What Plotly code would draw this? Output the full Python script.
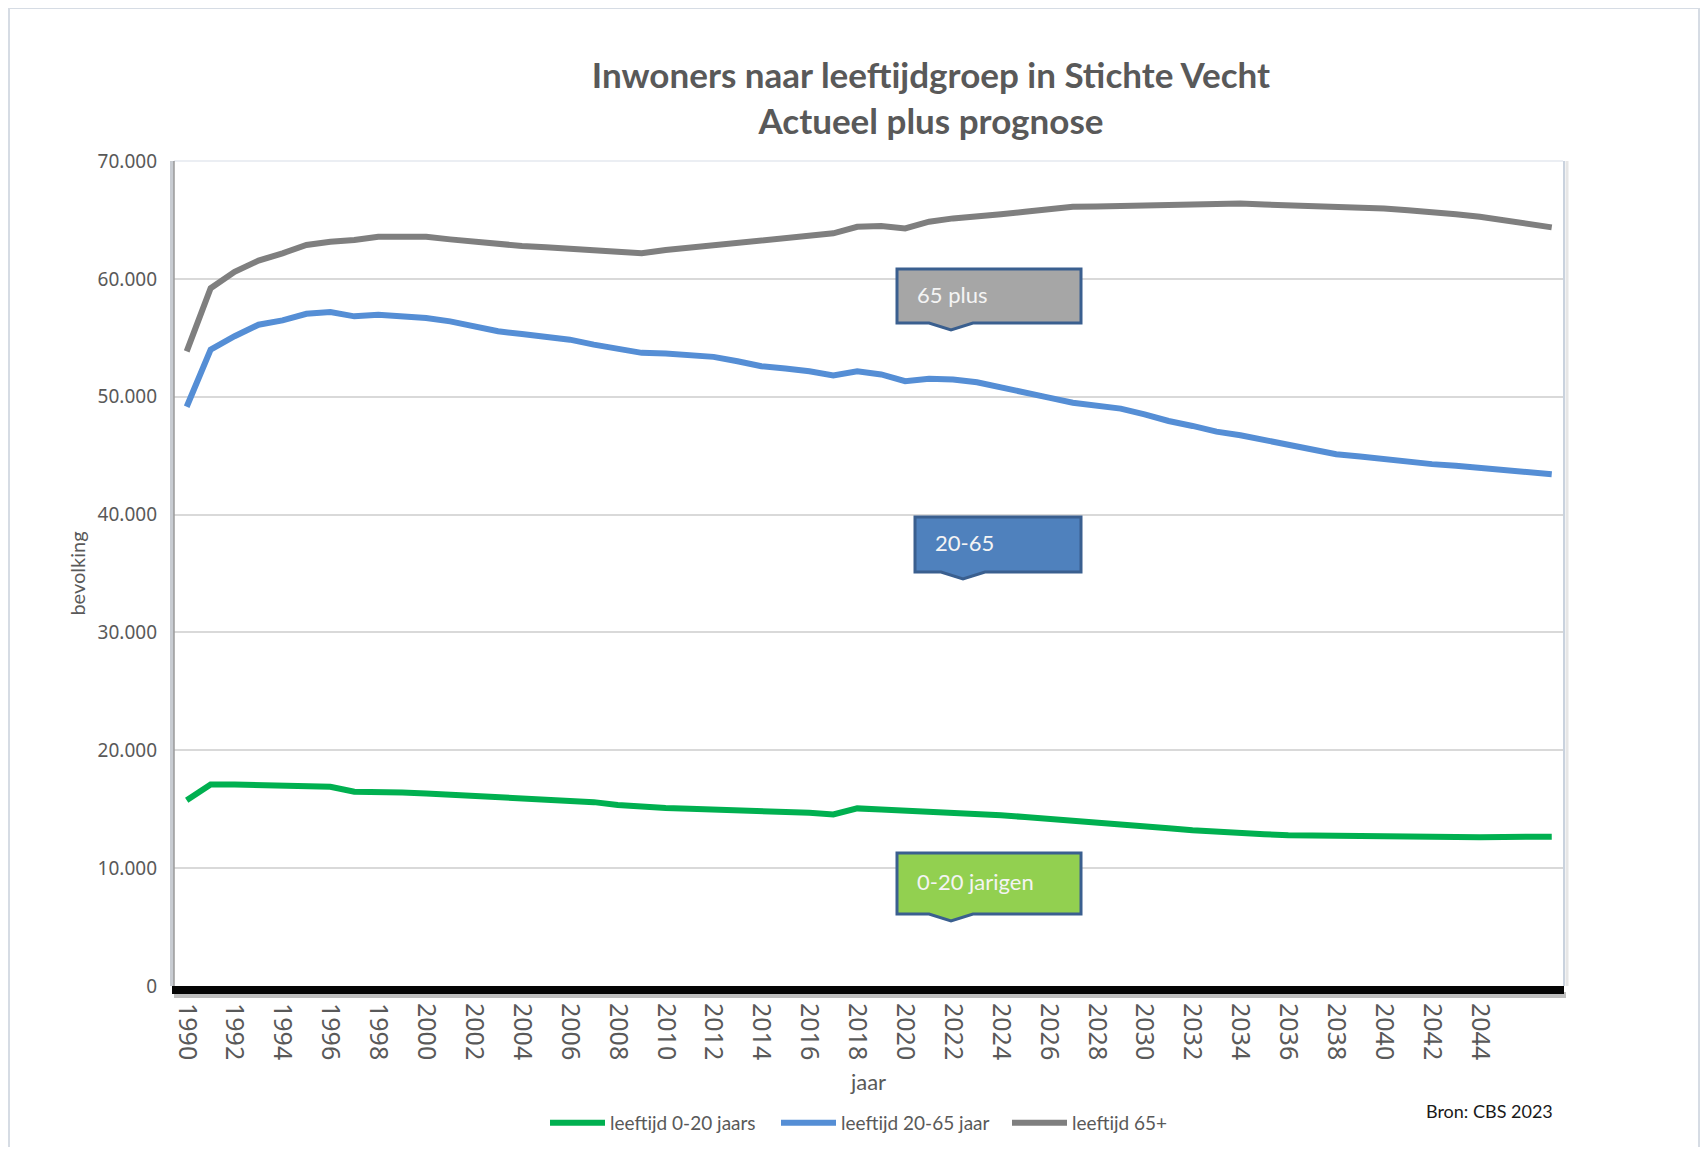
import plotly.graph_objects as go

years = list(range(1990, 2048))

age_0_20 = [15770, 17100, 17100, 17040, 17010, 16960, 16900, 16480, 16480, 16420,
            16340, 16230, 16110, 15970, 15890, 15800, 15750, 15600, 15350, 15180,
            15100, 15040, 14980, 14930, 14870, 14790, 14700, 14560, 15070, 14980,
            14900, 14820, 14620, 14590, 14480, 14340, 14200, 14030, 13860, 13720,
            13580, 13380, 13210, 13070, 12960, 12870, 12790, 12760, 12730, 12700,
            12680, 12680, 12650, 12620, 12620, 12650, 12670, 12670]

age_20_65 = [49150, 54000, 55130, 56110, 56480, 57040, 57180, 56820, 56960, 56870,
             56680, 56390, 56030, 55550, 55320, 55130, 54840, 54420, 54060, 53720,
             53660, 53580, 53380, 53010, 52590, 52390, 52160, 51800, 52160, 51890,
             51320, 51520, 51460, 51230, 50760, 50340, 49920, 49490, 49250, 48990,
             48500, 47940, 47520, 47040, 46730, 46330, 45830, 45400, 45120, 44930,
             44700, 44500, 44280, 44140, 43940, 43770, 43570, 43430]

age_65_plus = [53850, 59200, 60600, 61550, 62170, 62870, 63150, 63300, 63580, 63580,
               63580, 63350, 63150, 62870, 62790, 62680, 62560, 62450, 62280, 62170,
               62450, 62650, 62820, 63010, 63210, 63440, 63660, 63860, 64420, 64480,
               64280, 64850, 65130, 65270, 65490, 65690, 65920, 66110, 66130, 66170,
               66260, 66280, 66370, 66400, 66400, 66310, 66260, 66170, 66110, 66090,
               65970, 65830, 65690, 65490, 65270, 64990, 64650, 64370]

series_names = ["leeftijd 0-20 jaars", "leeftijd 20-65 jaar", "leeftijd 65+"]
series_colors = ["#00b050", "#558ed5", "#7f7f7f"]

y_tickvals = [0, 10000, 20000, 30000, 40000, 50000, 60000, 70000]
y_ticktext = ["0", "10.000", "20.000", "30.000", "40.000", "50.000", "60.000", "70.000"]
x_tickvals = list(range(1990, 2045, 2))
x_ticktext = [str(v) for v in x_tickvals]

callouts = [
    ("65 plus", "#a6a6a6"),
    ("20-65", "#4f81bd"),
    ("0-20 jarigen", "#92d050"),
]

# page body margin compensation
OFF = 8
W, H = 1692, 1139
PLOT_L, PLOT_R, PLOT_T, PLOT_B = 174, 1563, 161, 986
L, T = PLOT_L - OFF, PLOT_T - OFF
R = W - (PLOT_R - OFF)
B = H - (PLOT_B - OFF)
PW, PH = W - L - R, H - T - B


def px(x):
    """page x pixel -> paper fraction"""
    return (x - OFF - L) / PW


def py(y):
    """page y pixel -> paper fraction"""
    return (H - B - (y - OFF)) / PH


fig = go.Figure()
for name, col, vals in zip(series_names, series_colors, [age_0_20, age_20_65, age_65_plus]):
    fig.add_trace(go.Scatter(x=years, y=vals, mode="lines", name=name,
                             line=dict(color=col, width=6)))

shapes = []
border = "#d6dce4"
shapes.append(dict(type="line", xref="paper", yref="paper", x0=px(9), x1=px(9), y0=py(7), y1=py(1160), line=dict(color=border, width=2)))
shapes.append(dict(type="line", xref="paper", yref="paper", x0=px(9), x1=px(1699), y0=py(8), y1=py(8), line=dict(color=border, width=2)))
shapes.append(dict(type="line", xref="paper", yref="paper", x0=px(1699), x1=px(1699), y0=py(7), y1=py(1160), line=dict(color=border, width=2)))
# plot area frame
shapes.append(dict(type="line", xref="paper", yref="paper", x0=0, x1=1, y0=1, y1=1, line=dict(color="#e4e9ef", width=1.5)))
shapes.append(dict(type="line", xref="paper", yref="paper", x0=px(172), x1=px(172), y0=0, y1=1, line=dict(color="#c8ccd2", width=4)))
shapes.append(dict(type="line", xref="paper", yref="paper", x0=px(174), x1=px(174), y0=0, y1=1, line=dict(color="#9a9a9a", width=1.5)))
shapes.append(dict(type="line", xref="paper", yref="paper", x0=px(1564), x1=px(1564), y0=0, y1=1, line=dict(color="#c9d2de", width=2)))
shapes.append(dict(type="line", xref="paper", yref="paper", x0=px(1567), x1=px(1567), y0=0, y1=1, line=dict(color="#e6e6e6", width=3)))
# thick bottom bar with shadow
shapes.append(dict(type="line", xref="paper", yref="paper", x0=px(174), x1=px(1566), y0=py(995), y1=py(995), line=dict(color="rgba(0,0,0,0.25)", width=6)))
shapes.append(dict(type="line", xref="paper", yref="paper", x0=px(172), x1=px(1564), y0=py(990), y1=py(990), line=dict(color="#050505", width=8)))

boxes = [
    (897, 1081, 269, 323, 951, 330),
    (915, 1081, 517, 572, 963, 579),
    (897, 1081, 853, 914, 951, 921),
]
annotations = []
for (label, fill), (x0, x1, y0, y1, tip, ytip) in zip(callouts, boxes):
    path = (f"M{px(x0)},{py(y0)} L{px(x1)},{py(y0)} L{px(x1)},{py(y1)} "
            f"L{px(tip + 22)},{py(y1)} L{px(tip)},{py(ytip)} L{px(tip - 22)},{py(y1)} "
            f"L{px(x0)},{py(y1)} Z")
    shapes.append(dict(type="path", xref="paper", yref="paper", path=path,
                       fillcolor=fill, line=dict(color="#3a5f8f", width=3)))
    annotations.append(dict(text=label, xref="paper", yref="paper",
                            x=px(x0 + 18), y=py((y0 + y1) / 2 - 2), xanchor="left", yanchor="middle",
                            showarrow=False, font=dict(family="Lato", size=22, color="#f4f4f4")))

annotations.append(dict(text="Bron: CBS 2023", xref="paper", yref="paper",
                        x=px(1489), y=py(1111), xanchor="center", yanchor="middle",
                        showarrow=False, font=dict(family="Lato", size=18, color="#1a1a1a")))

fig.update_layout(
    width=W, height=H,
    margin=dict(l=L, r=R, t=T, b=B, autoexpand=False),
    paper_bgcolor="white", plot_bgcolor="white",
    title=dict(text="Inwoners naar leeftijdgroep in Stichte Vecht<br>Actueel plus prognose",
               x=(931 - OFF) / W, xanchor="center", y=1 - (98 - OFF - 10) / H, yanchor="middle",
               yref="container",
               font=dict(family="Lato", size=35, color="#595959", weight="bold")),
    xaxis=dict(range=[1989.47, 2047.47], tickmode="array", tickvals=x_tickvals, ticktext=x_ticktext,
               tickangle=90, showgrid=False, zeroline=False, showline=False, ticks="",
               ticklabelstandoff=16, automargin=False,
               tickfont=dict(family="Noto Sans", size=25, color="#595959"),
               title=dict(text="jaar", standoff=15, font=dict(family="Lato", size=22, color="#595959"))),
    yaxis=dict(range=[0, 70000], tickmode="array", tickvals=y_tickvals, ticktext=y_ticktext,
               showgrid=True, gridcolor="#d9d9d9", gridwidth=1.5, zeroline=False, showline=False,
               ticks="", ticklabelstandoff=16, automargin=False,
               tickfont=dict(family="Noto Sans", size=19, color="#595959"),
               title=dict(text="bevolking", standoff=6, font=dict(family="Lato", size=20, color="#595959"))),
    legend=dict(orientation="h", x=px(545), xanchor="left", y=py(1123), yanchor="middle",
                entrywidth=161, entrywidthmode="pixels", bgcolor="rgba(0,0,0,0)",
                font=dict(family="Lato", size=19, color="#595959"), itemwidth=55),
    shapes=shapes,
    annotations=annotations,
    showlegend=True,
)

fig.write_html("out.html")
